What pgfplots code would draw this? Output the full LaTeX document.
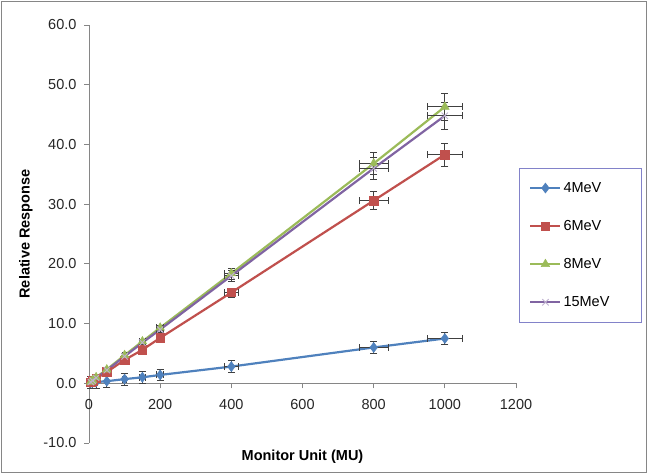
\documentclass[border=0pt]{standalone}
\usepackage{fontspec}
\setmainfont{Liberation Sans}
\usepackage{pgfplots}
\pgfplotsset{compat=1.18}
\usepackage{pgfplotstable}
\definecolor{cblue}{HTML}{4F81BD}
\definecolor{cred}{HTML}{C0504D}
\definecolor{cgreen}{HTML}{9BBB59}
\definecolor{cpurple}{HTML}{8064A2}
\definecolor{axgray}{HTML}{868686}
\pgfplotstableread{
x y ex ey
5 0.1 0.25 1.0
10 0.15 0.5 1.0
20 0.2 1 1.0
50 0.35 2.5 1.0
100 0.7 5 1.0
150 1.0 7.5 1.0
200 1.4 10 1.0
400 2.8 20 1.0
800 6.0 40 1.0
1000 7.5 50 1.0
}\fourmev
\pgfplotstableread{
x y ex ey
5 0.2 0.25 0.01
10 0.4 0.5 0.02
20 0.8 1 0.04
50 1.9 2.5 0.1
100 3.9 5 0.2
150 5.6 7.5 0.28
200 7.6 10 0.38
400 15.2 20 0.76
800 30.6 40 1.55
1000 38.3 50 1.9
}\sixmev
\pgfplotstableread{
x y ex ey
5 0.25 0.25 0.01
10 0.5 0.5 0.02
20 1.0 1 0.05
50 2.3 2.5 0.12
100 4.7 5 0.24
150 7.0 7.5 0.35
200 9.3 10 0.47
400 18.4 20 0.92
800 36.8 40 1.85
1000 46.3 50 2.3
}\eightmev
\pgfplotstableread{
x y ex ey
5 0.2 0.25 0.01
10 0.45 0.5 0.02
20 0.9 1 0.05
50 2.2 2.5 0.11
100 4.5 5 0.23
150 6.8 7.5 0.34
200 9.0 10 0.45
400 18.0 20 0.9
800 36.0 40 1.8
1000 44.8 50 2.24
}\fifteenmev
\begin{document}
\begin{tikzpicture}[x=1pt,y=1pt]
\path (0,0) rectangle (647,473);
\draw[axgray,line width=0.8pt] (1,1) rectangle (646,472);
\begin{axis}[
  at={(89pt,30pt)}, anchor=south west,
  scale only axis, width=427pt, height=418pt,
  xmin=0, xmax=1200, ymin=-10, ymax=60,
  xtick={0,200,...,1200}, ytick={-10,0,...,60},
  axis x line=middle, axis y line=left,
  axis line style={-, axgray, line width=0.8pt},
  tick style={axgray, line width=0.8pt},
  tick align=outside, major tick length=5pt,
  hide obscured x ticks=false, hide obscured y ticks=false,
  /pgf/number format/assume math mode=true,
  ticklabel style={font=\fontsize{14.5}{16}\selectfont, text=black!85},
  yticklabel style={xshift=-4pt, /pgf/number format/.cd, fixed, fixed zerofill, precision=1},
  xticklabel style={yshift=-8pt, /pgf/number format/.cd, fixed, precision=0, 1000 sep={}},
  xlabel={\textbf{Monitor Unit (MU)}},
  ylabel={\textbf{Relative Response}},
  xlabel style={at={(axis description cs:0.5,0)}, anchor=center, yshift=-14pt, font=\fontsize{14.5}{16}\selectfont},
  ylabel style={at={(axis description cs:-0.148,0.5)}, anchor=center, font=\fontsize{14.5}{16}\selectfont},
  clip=false,
  legend style={at={(axis description cs:1.007,0.658)}, anchor=north west,
    draw=gray!60!blue!70, line width=0.7pt, font=\fontsize{14.5}{16}\selectfont,
    inner xsep=10pt, inner ysep=12pt, row sep=22.5pt, text width=66pt},
  legend cell align=left,
  legend image code/.code={
    \draw[mark repeat=2,mark phase=2,#1] plot coordinates {(0pt,0pt) (15pt,0pt) (30pt,0pt)};},
  error bars/error bar style={black!75, line width=0.8pt},
  error bars/error mark options={black!75, line width=0.8pt, mark size=3.5pt, rotate=90},
]
\addplot[cblue, line width=2.2pt, mark=diamond*, mark size=5pt, mark options={fill=cblue, line width=0.5pt},
  error bars/.cd, x dir=both, y dir=both, x explicit, y explicit]
  table[x=x, y=y, x error=ex, y error=ey] {\fourmev};
\addlegendentry{4MeV}
\addplot[cred, line width=2.2pt, mark=square*, mark size=4.2pt, mark options={fill=cred, line width=0.5pt},
  error bars/.cd, x dir=both, y dir=both, x explicit, y explicit]
  table[x=x, y=y, x error=ex, y error=ey] {\sixmev};
\addlegendentry{6MeV}
\addplot[cgreen, line width=2.2pt, mark=triangle*, mark size=5pt, mark options={fill=cgreen, line width=0.5pt},
  error bars/.cd, x dir=both, y dir=both, x explicit, y explicit]
  table[x=x, y=y, x error=ex, y error=ey] {\eightmev};
\addlegendentry{8MeV}
\addplot[cpurple, line width=2.2pt, mark=x, mark size=4.5pt, mark options={draw=cpurple!50, line width=0.9pt},
  error bars/.cd, x dir=both, y dir=both, x explicit, y explicit]
  table[x=x, y=y, x error=ex, y error=ey] {\fifteenmev};
\addlegendentry{15MeV}
\end{axis}
\end{tikzpicture}
\end{document}
